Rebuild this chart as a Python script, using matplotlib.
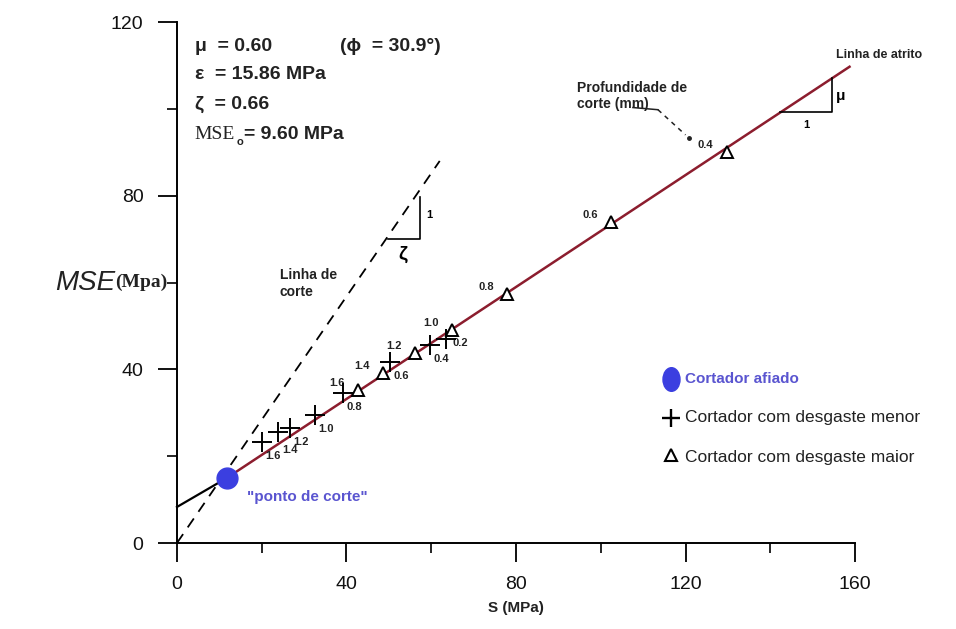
import matplotlib
matplotlib.use('Agg')
import matplotlib.pyplot as plt
from matplotlib.ticker import MultipleLocator
from matplotlib.path import Path
from matplotlib.transforms import Affine2D

plt.rcParams['font.family'] = ['Liberation Sans', 'DejaVu Sans']

# ---- data ----
# sharp cutter ("ponto de corte")
afiado_S = [11.8]
afiado_MSE = [15.0]

# cutter with minor wear (+), depth of cut in mm
menor_S = [63.5, 59.7, 50.2, 39.2, 32.5, 26.7, 23.8, 20.0]
menor_MSE = [47.0, 45.6, 41.7, 34.6, 29.5, 26.5, 25.6, 23.3]
menor_doc = ['0.2', '0.4', '0.6', '0.8', '1.0', '1.2', '1.4', '1.6']

# cutter with major wear (triangles)
maior_S = [129.7, 102.4, 77.8, 64.9, 56.1, 48.6, 42.7]
maior_MSE = [90.1, 74.0, 57.4, 49.1, 43.8, 39.2, 35.3]
maior_doc = ['0.4', '0.6', '0.8', '1.0', '1.2', '1.4', '1.6']

# friction line and cutting line end points
atrito_S = [0.0, 11.8, 158.7]
atrito_MSE = [8.3, 15.0, 109.7]
corte_S = [0.0, 62.0]
corte_MSE = [0.0, 88.0]

x_ticks = [0, 40, 80, 120, 160]
y_ticks = [0, 40, 80, 120]

DARKRED = '#8c1d2e'
BLUE = '#3b3fe0'
LBLUE = '#5a55d0'
TXT = '#222222'

# tall ellipse marker for the legend entry
ellipse = Path.unit_circle().transformed(Affine2D().scale(0.72, 1.0))

fig = plt.figure(figsize=(9.56, 6.29), dpi=100)
ax = fig.add_axes([0.1851, 0.1367, 0.7093, 0.8283])

ax.set_xlim(0, 160)
ax.set_ylim(0, 120)
for s in ['top', 'right']:
    ax.spines[s].set_visible(False)
for s in ['left', 'bottom']:
    ax.spines[s].set_linewidth(1.4)
ax.set_xticks(x_ticks)
ax.set_yticks(y_ticks)
ax.xaxis.set_minor_locator(MultipleLocator(20))
ax.yaxis.set_minor_locator(MultipleLocator(20))
ax.tick_params(which='major', direction='out', length=14, width=1.4, labelsize=14, pad=10, colors='#111')
ax.tick_params(which='minor', direction='out', length=7, width=1.2)

# lines
ax.plot(corte_S, corte_MSE, color='black', lw=1.3, dashes=(6, 4.5), clip_on=False)
ax.plot(atrito_S[:2], atrito_MSE[:2], color='black', lw=1.6, clip_on=False)
ax.plot(atrito_S[1:], atrito_MSE[1:], color=DARKRED, lw=1.8, clip_on=False)

# slope triangles
ax.plot([142.2, 154.5, 154.5], [99.2, 99.2, 107.0], color='black', lw=1.2)
ax.text(148.5, 97.5, '1', ha='center', va='top', fontsize=8, fontweight='bold')
ax.text(155.5, 103.0, 'μ', ha='left', va='center', fontsize=11, fontweight='bold')
ax.plot([49.8, 57.3, 57.3], [70.0, 70.0, 79.7], color='black', lw=1.2)
ax.text(58.8, 75.5, '1', ha='left', va='center', fontsize=8, fontweight='bold')
ax.text(53.2, 68.5, 'ζ', ha='center', va='top', fontsize=14, fontweight='bold')

# markers
ax.plot(menor_S, menor_MSE, ls='none', marker='+', ms=14, mew=1.4, color='black', zorder=4)
ax.plot(maior_S, maior_MSE, ls='none', marker='^', ms=9, mew=1.4, mfc='white', mec='black', zorder=4)
ax.plot(afiado_S, afiado_MSE, ls='none', marker='o', ms=15, color=BLUE, zorder=5, clip_on=False)

for x, y, t in zip(menor_S, menor_MSE, menor_doc):
    if t == '0.2':
        off = (10, -3)
    elif t == '1.4':
        off = (9, -13)
    else:
        off = (8, -10)
    ax.annotate(t, (x, y), xytext=off, textcoords='offset points', ha='center', va='center',
                fontsize=8, fontweight='bold', color=TXT)
for x, y, t in zip(maior_S, maior_MSE, maior_doc):
    ax.annotate(t, (x, y), xytext=(-15, 5), textcoords='offset points', ha='center', va='center',
                fontsize=8, fontweight='bold', color=TXT)

# parameter block
pk = dict(fontsize=14, fontweight='bold', color=TXT, va='center', ha='left')
ax.text(4.2, 114.3, 'μ  = 0.60', **pk)
ax.text(38.4, 114.3, '(ϕ  = 30.9°)', **pk)
ax.text(4.2, 107.8, 'ε  = 15.86 MPa', **pk)
ax.text(4.2, 101.1, 'ζ  = 0.66', **pk)
ax.text(4.2, 94.2, 'MSE', fontsize=14, family='Liberation Serif', color=TXT, va='center', ha='left')
ax.text(14.0, 92.4, 'o', fontsize=8, fontweight='bold', color=TXT, va='center', ha='left')
ax.text(15.8, 94.2, '= 9.60 MPa', **pk)

# labels on chart
ax.text(24.3, 59.8, 'Linha de\ncorte', fontsize=10, fontweight='bold', color=TXT,
        va='center', ha='left', linespacing=1.25)
ax.text(155.4, 111.0, 'Linha de atrito', fontsize=9, fontweight='bold', color=TXT,
        va='bottom', ha='left', clip_on=False)
ax.text(94.5, 103.0, 'Profundidade de\ncorte (mm)', fontsize=10, fontweight='bold', color=TXT,
        va='center', ha='left', linespacing=1.2)
ax.plot([107.6, 113.5], [100.3, 99.8], color=TXT, lw=1.1)
ax.plot([113.5, 120.0], [99.8, 94.0], color=TXT, lw=1.1, dashes=(3, 3))
ax.plot([120.8], [93.3], marker='o', ms=2.5, color=TXT)
ax.text(16.5, 10.5, '"ponto de corte"', fontsize=11, fontweight='bold', color=LBLUE,
        va='center', ha='left')

# legend
ax.plot([116.5], [37.7], marker=ellipse, ms=17, color=BLUE, ls='none')
ax.text(119.8, 37.7, 'Cortador afiado', fontsize=11, fontweight='bold', color=LBLUE, va='center', ha='left')
ax.plot([116.5], [28.9], marker='+', ms=13, mew=1.7, color='black', ls='none')
ax.text(119.8, 28.9, 'Cortador com desgaste menor', fontsize=12.5, color=TXT, va='center', ha='left')
ax.plot([116.5], [20.2], marker='^', ms=8, mew=1.5, mfc='white', mec='black', ls='none')
ax.text(119.8, 19.8, 'Cortador com desgaste maior', fontsize=12.5, color=TXT, va='center', ha='left')

# axis labels
ax.text(0.5, -0.125, 'S (MPa)', transform=ax.transAxes, fontsize=11, fontweight='bold',
        color=TXT, ha='center', va='center')
ax.text(-2.3, 60, '(Mpa)', fontsize=14, fontweight='bold', family='Liberation Serif',
        color=TXT, ha='right', va='center')
ax.text(-14.6, 60, 'MSE', fontsize=20, style='italic', color=TXT, ha='right', va='center')

fig.savefig('out.png', dpi=100)
